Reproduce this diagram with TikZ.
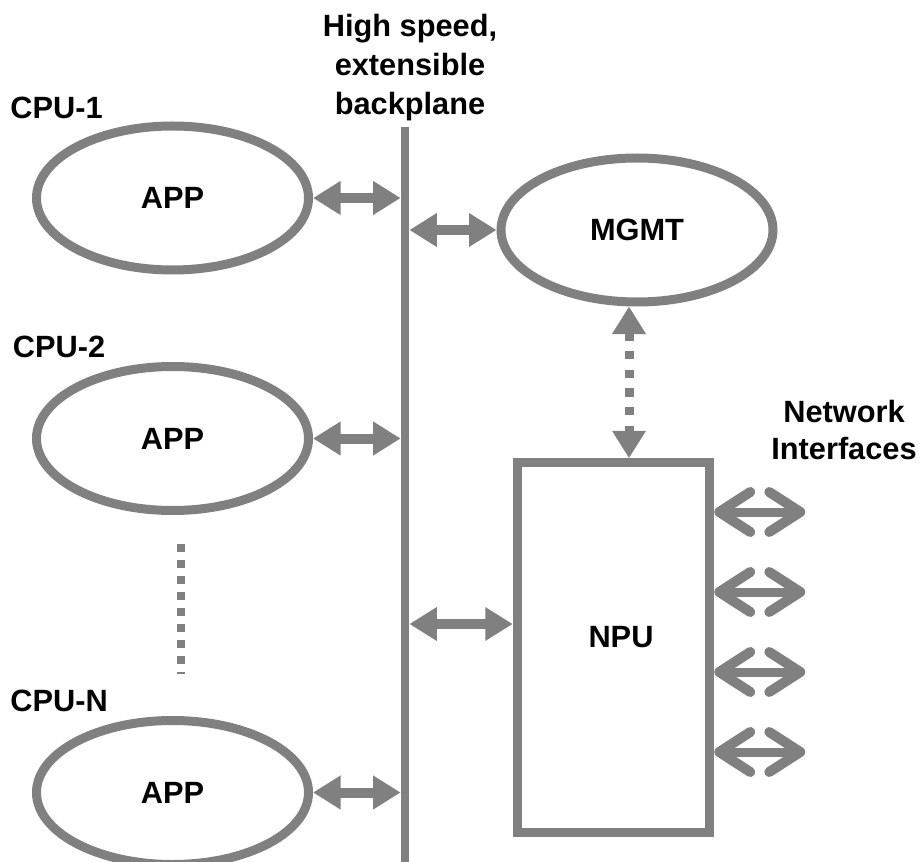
\documentclass[tikz,border=0pt]{standalone}
\usepackage{fontspec}
\setmainfont{Liberation Sans}
\usetikzlibrary{arrows.meta,positioning,shapes.geometric}
\definecolor{linegray}{RGB}{128,128,128}

\begin{document}
\begin{tikzpicture}[>={Triangle[length=0.55cm, width=0.64cm]},
  font=\fontsize{17.5}{22.4}\selectfont\bfseries,
  app/.style={draw=linegray, line width=0.18cm, ellipse, inner sep=0pt, minimum width=5.44cm, minimum height=2.88cm},
  npubox/.style={draw=linegray, line width=0.18cm, inner sep=0pt, minimum width=3.85cm, minimum height=7.39cm},
  lbl/.style={inner sep=0pt, align=center},
  link/.style={draw=linegray, line width=0.2cm, <->},
  netlink/.style={draw=linegray, line width=0.18cm, {Straight Barb[length=0.62cm, width=0.8cm, line width=0.2cm, round]}-{Straight Barb[length=0.62cm, width=0.8cm, line width=0.2cm, round]}}]
\useasboundingbox (0,0) rectangle (18.42,-17.24);
\node[app] (app1) at (3.45,-3.96) {APP};
\node[app,below=1.75cm of app1] (app2) {APP};
\node[app,below=4.02cm of app2] (appN) {APP};
\node[lbl,anchor=west] (cpu1) at (0.2,-2.15) {CPU-1};
\node[lbl,anchor=west] (cpu2) at (0.25,-6.93) {CPU-2};
\node[lbl,anchor=west] (cpuN) at (0.2,-14.02) {CPU-N};
% backplane
\node[fill=linegray, inner sep=0pt, minimum width=0.16cm, minimum height=14.7cm, anchor=north] (bp) at (8.1,-2.54) {};
\node[lbl,above=0.11cm of bp,xshift=0.1cm] (bptitle) {High speed,\\extensible\\backplane};
\node[app] (mgmt) at (12.74,-4.60) {MGMT};
\node[npubox] (npu) at (12.27,-12.95) {};
\node[lbl] (npulbl) at ([xshift=0.15cm,yshift=0.21cm]npu.center) {NPU};
\node[lbl,font=\fontsize{17.5}{20.5}\selectfont\bfseries] (netif) at (16.88,-8.6) {Network\\Interfaces};
% more cpus
\coordinate (more) at (3.62,-10.88);
\coordinate (moreEnd) at (3.62,-13.48);
\draw[draw=linegray, line width=0.16cm, dash pattern=on 0.16cm off 0.16cm] (more) -- (moreEnd);
% links to backplane
\draw[link] (app1.east) -- (app1.east -| bp.west);
\draw[link] (app2.east) -- (app2.east -| bp.west);
\draw[link] (appN.east) -- (appN.east -| bp.west);
\draw[link] (mgmt.west -| bp.east) -- (mgmt.west);
\coordinate (npuIn) at ([yshift=0.47cm]npu.west);
\draw[link] (npuIn -| bp.east) -- (npuIn);
\coordinate (mgmtOut) at ([xshift=-0.16cm]mgmt.south);
\draw[link, line width=0.18cm, dash pattern=on 0.166cm off 0.207cm] (mgmtOut) -- (mgmtOut |- npu.north);
% network interfaces
\foreach \dy [count=\i] in {2.71,1.11,-0.49,-2.09}{
  \coordinate (nif\i) at ([xshift=1.82cm,yshift=\dy cm]npu.east);
  \draw[netlink] (nif\i -| npu.east) -- (nif\i);
}
\end{tikzpicture}
\end{document}
